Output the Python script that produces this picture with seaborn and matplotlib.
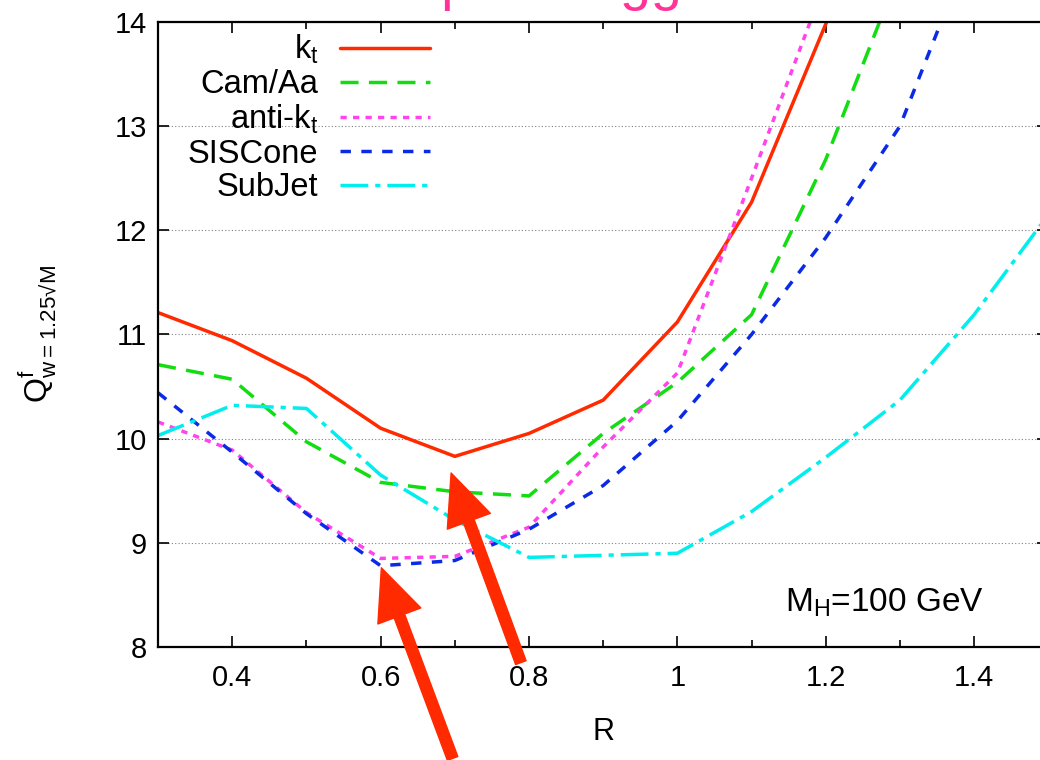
import pandas as pd
import matplotlib
matplotlib.use("Agg")
import matplotlib.pyplot as plt
from matplotlib.ticker import MultipleLocator, FormatStrFormatter
import seaborn as sns

sns.set_theme(style="ticks")
plt.rcParams["font.family"] = ["Liberation Sans", "DejaVu Sans"]
plt.rcParams["mathtext.default"] = "regular"
plt.rcParams["text.color"] = "black"
plt.rcParams["axes.labelcolor"] = "black"

# ---------------------------------------------------------
# Data
# ---------------------------------------------------------
names = ["$k_t$", "Cam/Aa", "anti-$k_t$", "SISCone", "SubJet"]
R_kt = [0.3, 0.4, 0.5, 0.6, 0.7, 0.8, 0.9, 1.0, 1.1, 1.2, 1.3]
Q_kt = [11.21, 10.94, 10.58, 10.10, 9.83, 10.05, 10.37, 11.12, 12.27, 13.98, 15.8]
R_cam = [0.3, 0.4, 0.5, 0.6, 0.7, 0.8, 0.9, 1.0, 1.1, 1.2, 1.3]
Q_cam = [10.71, 10.57, 9.97, 9.58, 9.49, 9.45, 10.05, 10.54, 11.19, 12.68, 14.5]
R_akt = [0.3, 0.4, 0.5, 0.6, 0.7, 0.8, 0.9, 1.0, 1.1, 1.2]
Q_akt = [10.16, 9.89, 9.29, 8.85, 8.87, 9.15, 9.92, 10.63, 12.5, 14.4]
R_sis = [0.3, 0.4, 0.5, 0.6, 0.7, 0.8, 0.9, 1.0, 1.1, 1.2, 1.3, 1.4]
Q_sis = [10.44, 9.87, 9.28, 8.78, 8.83, 9.13, 9.55, 10.17, 11.0, 11.93, 13.0, 14.8]
R_sub = [0.3, 0.4, 0.5, 0.6, 0.7, 0.8, 0.9, 1.0, 1.1, 1.2, 1.3, 1.4, 1.5]
Q_sub = [10.03, 10.32, 10.29, 9.65, 9.22, 8.86, 8.88, 8.90, 9.30, 9.82, 10.37, 11.19, 12.15]

colors = ["#ff2a00", "#11dd11", "#ff44ee", "#0a2ae6", "#00eeee"]
dash_styles = ["", (5.2, 3.0), (1.8, 1.8), (3.0, 3.0), (8.0, 2.0, 1.5, 2.0)]

series = [(R_kt, Q_kt), (R_cam, Q_cam), (R_akt, Q_akt), (R_sis, Q_sis), (R_sub, Q_sub)]
frames = [pd.DataFrame({"R": r, "Q": q, "alg": n}) for n, (r, q) in zip(names, series)]
df = pd.concat(frames, ignore_index=True)

# ---------------------------------------------------------
# Plot
# ---------------------------------------------------------
fig = plt.figure(figsize=(10.4, 7.6), dpi=100)
ax = fig.add_axes([0.152, 0.1487, 0.856, 0.8224])

sns.lineplot(data=df, x="R", y="Q", hue="alg", style="alg",
             hue_order=names, style_order=names,
             palette=dict(zip(names, colors)), dashes=dict(zip(names, dash_styles)),
             linewidth=2.5, legend=False, ax=ax)

for line, n in zip(ax.lines, names):
    line.set_label(n)

ax.set_xlim(0.3, 1.5)
ax.set_ylim(8, 14)
ax.xaxis.set_major_locator(MultipleLocator(0.2))
ax.xaxis.set_minor_locator(MultipleLocator(0.1))
ax.xaxis.set_major_formatter(FormatStrFormatter("%g"))
ax.yaxis.set_major_locator(MultipleLocator(1))
ax.tick_params(which="both", direction="in", top=True, right=True, width=1.2, colors="black",
               labelsize=21)
ax.tick_params(which="major", length=8)
ax.tick_params(which="minor", length=5)
ax.tick_params(axis="x", pad=12)
ax.tick_params(axis="y", pad=8)
for s in ax.spines.values():
    s.set_linewidth(1.6)
    s.set_color("black")

ax.yaxis.grid(True, linestyle=(0, (1, 2)), color="gray", linewidth=0.8)
ax.set_axisbelow(True)

ax.set_xlabel("R", fontsize=22, labelpad=18)
ax.set_ylabel("$Q^{f}_{w=1.25√M}$", fontsize=23, labelpad=40)

ax.legend(loc="upper right", bbox_to_anchor=(430 / 1040, 1 - 33 / 760),
          bbox_transform=fig.transFigure, markerfirst=False, frameon=False,
          fontsize=23.5, handlelength=2.75, handletextpad=0.67, labelspacing=0.08,
          borderpad=0, borderaxespad=0)

ax.text(0.704, 0.056, "M$_H$=100 GeV", transform=ax.transAxes, fontsize=24)

# red arrows pointing at the minima
arrow_style = dict(color="#ff2a00", width=8, headwidth=33, headlength=37, shrink=0)
ax.annotate("", xy=(0.695, 9.67), xytext=(0.789, 7.85), arrowprops=arrow_style,
            annotation_clip=False)
ax.annotate("", xy=(0.601, 8.76), xytext=(0.697, 6.93), arrowprops=arrow_style,
            annotation_clip=False)

# slide title, cut off at the top of the picture
fig.text(0.314, 1.0 + 1 / 760, "Setup for Higgs", color="#ff3399", fontsize=40,
         ha="left", va="baseline")

fig.savefig("out.png", dpi=100)
